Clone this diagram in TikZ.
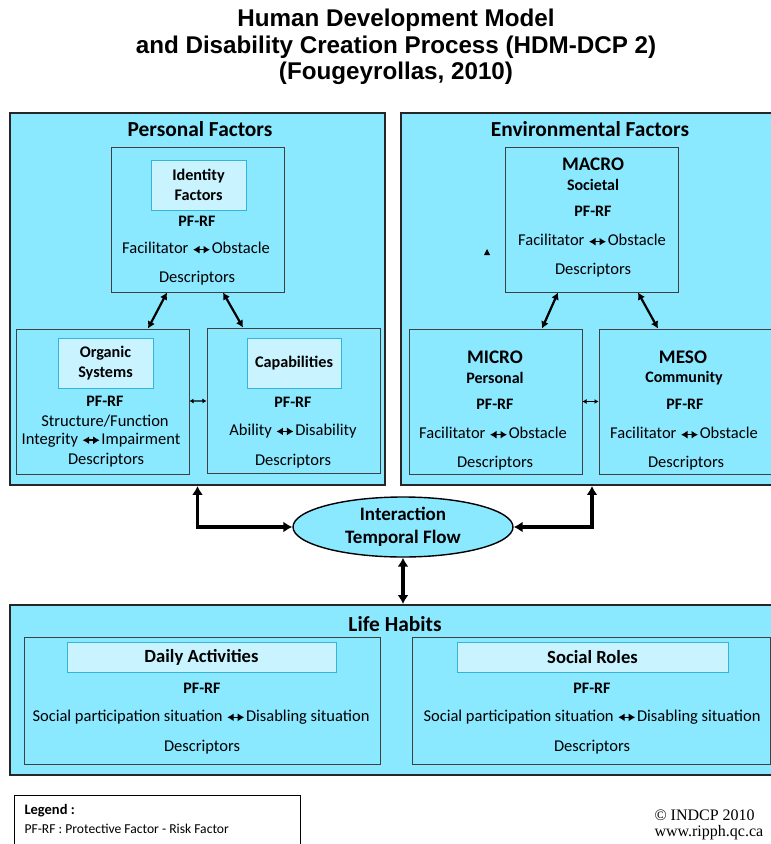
\documentclass[tikz,border=0pt]{standalone}
\usepackage{fontspec}
\setmainfont{Carlito}
\newfontfamily\headfont{Liberation Sans}
\newfontfamily\copyfont{Liberation Serif}
\usetikzlibrary{arrows.meta,shapes.geometric,positioning}

\definecolor{hdmcyan}{RGB}{138,232,255}
\definecolor{hdmpale}{RGB}{201,244,255}
\definecolor{hdmrim}{RGB}{52,180,216}

% small double arrow used inside the texts
\newcommand{\lra}{\tikz[baseline=-4pt]\draw[line width=1.6pt,{Latex[length=6.5pt,width=8pt]}-{Latex[length=6.5pt,width=8pt]}] (0pt,0pt) -- (17pt,0pt);\hspace{1pt}}

\tikzset{
  sized/.style 2 args={minimum width=#1pt, minimum height=#2pt, inner sep=0pt},
  zone/.style={draw=black!85, line width=1.8pt, fill=hdmcyan},
  factorbox/.style={draw=black!75, line width=1pt, fill=hdmcyan},
  labelbox/.style={draw=hdmrim, line width=0.9pt, fill=hdmpale, align=center,
    font=\bfseries\fontsize{16.2}{20}\selectfont},
  zonetitle/.style={font=\bfseries\fontsize{21.4}{23}\selectfont},
  levelname/.style={font=\bfseries\fontsize{19.2}{21}\selectfont},
  bold/.style={font=\bfseries\fontsize{16}{18}\selectfont},
  txt/.style={font=\fontsize{16.5}{19}\selectfont},
  link/.style={line width=2.2pt, {Latex[length=7pt,width=8pt]}-{Latex[length=7pt,width=8pt]}},
  flow/.style={line width=3.4pt, {Latex[length=9pt,width=11pt]}-{Latex[length=9pt,width=11pt]}},
  tiny/.style={line width=1.1pt, {Latex[length=4pt,width=5pt]}-{Latex[length=4pt,width=5pt]}},
}

\begin{document}
\begin{tikzpicture}[x=1pt,y=-1pt]
\clip (0,0) rectangle (771,844);
\fill[white] (0,0) rectangle (771,844);

% title
\node[align=center, font=\headfont\bfseries\fontsize{24.2}{26.5}\selectfont] (title) at (396,47)
  {Human Development Model\\and Disability Creation Process (HDM-DCP 2)\\(Fougeyrollas, 2010)};

% the three zones
\node[zone, sized={375}{372}] (personal) at (197.5,299) {};
\node[zone, sized={382}{372}] (environ) at (592,299) {};
\node[zone, sized={786}{170}] (life) at (403,690) {};

\node[zonetitle] (personaltitle) at (200,129) {Personal Factors};
\node[zonetitle] (environtitle) at (590,129) {Environmental Factors};
\node[zonetitle] (lifetitle) at (395,624) {Life Habits};

% personal factors
\node[factorbox, sized={173}{145}] (identity) at (197.5,219.5) {};
\node[labelbox, sized={95}{50}] (identitylabel) at (198.5,185) {Identity\\Factors};
\node[bold] (identitypf) at (197,221) {PF-RF};
\node[txt] (identityfo) at (196,248) {Facilitator \lra Obstacle};
\node[txt] (identitydesc) at (197,278) {Descriptors};

\node[factorbox, sized={173}{145}] (organic) at (102.5,401.5) {};
\node[labelbox, sized={95}{50}] (organiclabel) at (105.5,363) {Organic\\Systems};
\node[bold] (organicpf) at (105,401) {PF-RF};
\node[txt] (organicsf) at (105,421) {Structure/Function};
\node[txt] (organicii) at (101,440) {Integrity \lra Impairment};
\node[txt] (organicdesc) at (106,460) {Descriptors};

\node[factorbox, sized={173}{145}] (capab) at (293.5,400.5) {};
\node[labelbox, sized={94}{50}] (capablabel) at (294,363) {Capabilities};
\node[bold] (capabpf) at (293,402) {PF-RF};
\node[txt] (capabad) at (293,431) {Ability \lra Disability};
\node[txt] (capabdesc) at (293,461) {Descriptors};

% environmental factors
\node[factorbox, sized={173}{145}] (macro) at (591.5,219.5) {};
\node[levelname] (macroname) at (593,164) {MACRO};
\node[bold] (macrosub) at (593,185) {Societal};
\node[bold] (macropf) at (593,211) {PF-RF};
\node[txt] (macrofo) at (592,240) {Facilitator \lra Obstacle};
\node[txt] (macrodesc) at (593,270) {Descriptors};

\node[factorbox, sized={173}{145}] (micro) at (495.5,401.5) {};
\node[levelname] (microname) at (495,357) {MICRO};
\node[bold] (microsub) at (495,378) {Personal};
\node[bold] (micropf) at (495,404) {PF-RF};
\node[txt] (microfo) at (493,433) {Facilitator \lra Obstacle};
\node[txt] (microdesc) at (495,463) {Descriptors};

\node[factorbox, sized={173}{145}] (meso) at (685.5,401.5) {};
\node[levelname] (mesoname) at (683,357) {MESO};
\node[bold] (mesosub) at (684,378) {Community};
\node[bold] (mesopf) at (685,404) {PF-RF};
\node[txt] (mesofo) at (684,433) {Facilitator \lra Obstacle};
\node[txt] (mesodesc) at (686,463) {Descriptors};

\fill (484,255) -- (490,255) -- (487,249) -- cycle;

% life habits
\node[factorbox, sized={356}{127}] (daily) at (202,700.5) {};
\node[labelbox, sized={269}{30}, font=\bfseries\fontsize{18.6}{20}\selectfont] (dailylabel) at (201.5,657) {Daily Activities};
\node[bold] (dailypf) at (202,688) {PF-RF};
\node[txt] (dailysd) at (201,717) {Social participation situation \lra Disabling situation};
\node[txt] (dailydesc) at (202,747) {Descriptors};

\node[factorbox, sized={358}{127}] (social) at (591,700.5) {};
\node[labelbox, sized={271}{30}, font=\bfseries\fontsize{18.6}{20}\selectfont] (sociallabel) at (592.5,657) {Social Roles};
\node[bold] (socialpf) at (592,688) {PF-RF};
\node[txt] (socialsd) at (592,717) {Social participation situation \lra Disabling situation};
\node[txt] (socialdesc) at (592,747) {Descriptors};

% interaction
\node[ellipse, draw=black, line width=1.4pt, fill=hdmcyan, sized={220}{60}, align=center,
  font=\bfseries\fontsize{19}{23}\selectfont] (interaction) at (403,527) {Interaction\\Temporal Flow};

% arrows
\draw[link] ([xshift=-30.5pt]identity.south) -- ([xshift=45.5pt]organic.north);
\draw[link] ([xshift=25.5pt]identity.south) -- ([xshift=-50.5pt]capab.north);
\draw[link] ([xshift=-33.5pt]macro.south) -- ([xshift=46.5pt]micro.north);
\draw[link] ([xshift=46.5pt]macro.south) -- ([xshift=-27.5pt]meso.north);
\draw[tiny] (organic) -- (capab);
\draw[tiny] (micro) -- (meso);
\draw[flow] (interaction.west) -| (personal.south);
\draw[flow] (interaction.east) -| (environ.south);
\draw[flow] (interaction.south) -- (life.north);

% legend and credits
\node[draw=black, line width=0.8pt, sized={286}{53}] (legend) at (157,821.5) {};
\node[anchor=west, font=\bfseries\fontsize{14.5}{16}\selectfont] (legendhead) at (21,811) {Legend :};
\node[anchor=west, font=\fontsize{13.6}{15}\selectfont] (legendtext) at (21,829) {PF-RF : Protective Factor - Risk Factor};
\node[anchor=west, font=\copyfont\fontsize{16}{18}\selectfont] (copyline) at (651,815) {\textcopyright{} INDCP 2010};
\node[anchor=west, font=\copyfont\fontsize{16}{18}\selectfont] (siteline) at (651,833) {www.ripph.qc.ca};
\end{tikzpicture}
\end{document}
